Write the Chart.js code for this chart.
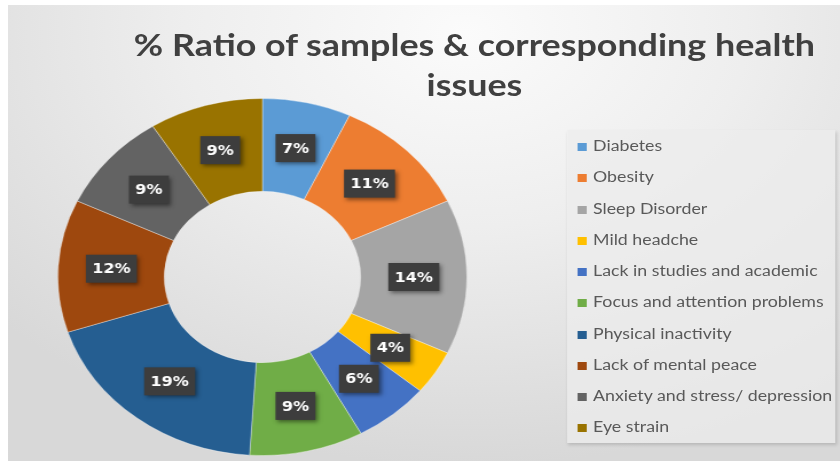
<!DOCTYPE html>
<html>
<head>
<meta charset="utf-8">
<script src="https://cdn.jsdelivr.net/npm/chart.js@4.4.1/dist/chart.umd.min.js"></script>
<style>
  html, body { margin: 0; padding: 0; background: #fff; overflow: hidden; }
  /* the source picture is stretched sideways, so draw narrow and scale the stage */
  #stage { position: absolute; left: 0; top: 0; width: 733px; height: 461px;
           transform: scaleX(1.14598); transform-origin: 0 0; }
  #panel { position: absolute; left: 7px; top: 5px; right: 0; bottom: 0;
           background: radial-gradient(ellipse 75% 95% at 55% 6%, #fbfbfb 0%, #eeeeee 45%, #e0e0e0 80%, #d8d8d8 100%); }
  #title { position: absolute; left: 114px; top: 24px; width: 600px; text-align: center;
           font: bold 31.3px Lato, sans-serif; line-height: 40px; color: #404040; white-space: nowrap; }
  #chart-wrap { position: absolute; left: 50px; top: 98px; width: 358px; height: 358px; }
  #legend { position: absolute; left: 495px; top: 130px; width: 234px; height: 313px;
            box-sizing: border-box; margin: 0; padding: 6px 0 0 0; list-style: none;
            background: rgba(236, 236, 236, 0.75); box-shadow: 1px 2px 3px rgba(0, 0, 0, 0.15); }
  #legend li { height: 31.26px; line-height: 31.26px; padding-left: 8.5px; white-space: nowrap;
               font: 15.5px Lato, sans-serif; color: #595959; }
  #legend li span { display: inline-block; width: 8px; height: 8px; margin-right: 6px; vertical-align: 0px; }
</style>
</head>
<body>
<div id="stage">
  <div id="panel"></div>
  <div id="title">% Ratio of samples &amp; corresponding health<br>issues</div>
  <div id="chart-wrap"><canvas id="ratio-chart" width="358" height="358"></canvas></div>
  <ul id="legend"></ul>
</div>
<script>
// Health issues and their share of the samples (%)
const issues = [
  'Diabetes',
  'Obesity',
  'Sleep Disorder',
  'Mild headche',
  'Lack in studies and academic',
  'Focus and attention problems',
  'Physical inactivity',
  'Lack of mental peace',
  'Anxiety and stress/ depression',
  'Eye strain'
];
const shares = [7, 11, 14, 4, 6, 9, 19, 12, 9, 9];
const sliceColors = [
  '#5b9bd5', '#ed7d31', '#a5a5a5', '#ffc000', '#4472c4',
  '#70ad47', '#255e91', '#9e480e', '#636363', '#997300'
];

// Dark boxed percentage labels in the middle of each slice
const boxLabels = {
  id: 'boxLabels',
  afterDatasetsDraw(chart) {
    const ctx = chart.ctx;
    const meta = chart.getDatasetMeta(0);
    ctx.save();
    ctx.font = 'bold 14px "DejaVu Sans", sans-serif';
    ctx.textAlign = 'center';
    ctx.textBaseline = 'middle';
    meta.data.forEach((arc, i) => {
      const pos = arc.tooltipPosition();
      const text = shares[i] + '%';
      const w = ctx.measureText(text).width + 11;
      const h = 28;
      ctx.shadowColor = 'rgba(0, 0, 0, 0.45)';
      ctx.shadowBlur = 4;
      ctx.shadowOffsetX = 2;
      ctx.shadowOffsetY = 2;
      ctx.fillStyle = '#3d3d3d';
      ctx.fillRect(pos.x - w / 2, pos.y - h / 2, w, h);
      ctx.shadowColor = 'transparent';
      ctx.fillStyle = '#ffffff';
      ctx.fillText(text, pos.x, pos.y + 1);
    });
    ctx.restore();
  }
};

let ratioChart;

function initializeChart() {
  const ctx = document.getElementById('ratio-chart').getContext('2d');
  ratioChart = new Chart(ctx, {
    type: 'doughnut',
    data: {
      labels: issues,
      datasets: [{
        data: shares,
        backgroundColor: sliceColors,
        borderColor: 'rgba(255, 255, 255, 0.35)',
        borderWidth: 1
      }]
    },
    options: {
      responsive: false,
      animation: false,
      cutout: '48%',
      layout: { padding: 0 },
      plugins: {
        legend: { display: false },
        tooltip: { enabled: false },
        title: { display: false }
      }
    },
    plugins: [boxLabels]
  });
}

// Legend drawn as a list to the right of the ring
function buildLegend() {
  const list = document.getElementById('legend');
  issues.forEach((name, i) => {
    const item = document.createElement('li');
    const swatch = document.createElement('span');
    swatch.style.background = sliceColors[i];
    item.appendChild(swatch);
    item.appendChild(document.createTextNode(name));
    list.appendChild(item);
  });
}

initializeChart();
buildLegend();
</script>
</body>
</html>
